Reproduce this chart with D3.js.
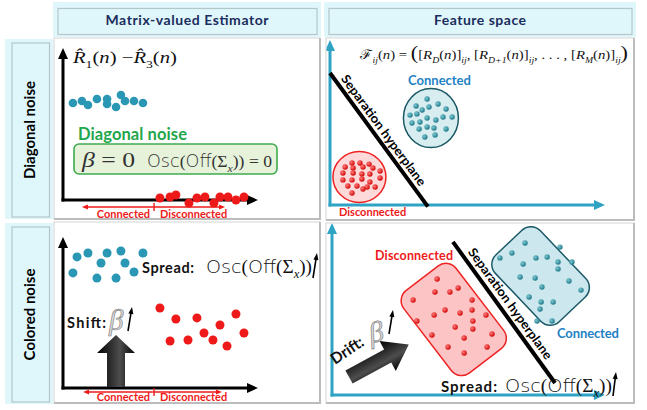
<!DOCTYPE html>
<html>
<head>
<meta charset="utf-8">
<script src="https://cdn.jsdelivr.net/npm/d3@7"></script>
<style>
  body { margin: 0; background: #fff; }
  svg { display: block; }
</style>
</head>
<body>
<svg id="chart"></svg>
<script>
// ---- data: every point is in 0..10 units of its own panel axes ----
const columnTitles = ["Matrix-valued Estimator", "Feature space"];
const rowTitles = ["Diagonal noise", "Colored noise"];
const classNames = ["Connected", "Disconnected"];

// estimator panels (R1 - R3 on y)
const diagConnected = [[0.51,6.38],[0.97,6.51],[1.28,6.25],[1.74,6.64],[2.26,6.64],[2.26,6.32],
  [2.72,6.12],[2.97,6.91],[3.18,6.51],[3.64,6.51],[4.10,6.38]];
const diagDisconnected = [[4.97,0.13],[5.49,0.2],[5.79,0.33],[6.46,-0.2],[6.87,0.13],[7.28,0.2],
  [7.74,-0.2],[8.05,0.2],[8.46,0.2],[8.87,0],[9.28,0.2]];
const colorConnected = [[0.72,8.68],[1.28,8.94],[2.26,8.94],[2.97,9.07],[4.10,8.94],[1.95,8.28],
  [3.18,8.28],[0.51,7.62],[1.74,7.28],[2.72,7.28],[3.64,7.68]];
const colorDisconnected = [[4.97,5.30],[5.79,4.57],[6.87,4.64],[8.87,4.90],[8.05,4.17],[7.23,3.64],
  [9.28,3.64],[5.49,3.11],[6.41,3.18],[7.69,3.18],[8.41,2.78]];
// [left end, split, right end] of the connected / disconnected range
const diagSplit = [0.97, 4.67, 8.31];
const colorSplit = [1.03, 4.67, 8.15];

// feature space panels
const featDiagConnected = [[3.53,6.42],[3.13,6.00],[3.35,5.76],[3.60,5.94],[3.93,6.12],[4.22,5.82],
  [3.16,5.52],[3.53,5.27],[3.85,5.15],[4.11,5.33],[4.44,5.33],[2.98,4.97],[3.27,5.03],[3.53,4.73],
  [3.78,4.67],[4.22,4.61],[3.24,4.61],[3.45,4.12],[3.82,4.24],[2.91,5.45]];
const featDiagDisconnected = [[0.80,2.55],[1.09,2.55],[1.42,2.48],[0.55,2.30],[0.84,2.24],[1.20,2.30],
  [1.56,2.24],[0.47,1.94],[0.84,1.94],[1.16,1.88],[1.45,1.88],[1.82,2.06],[0.47,1.52],[0.80,1.52],
  [1.16,1.58],[1.45,1.39],[1.82,1.64],[0.65,1.15],[0.98,1.15],[1.35,1.09],[1.64,1.09],[0.80,0.73],[1.20,0.97]];
const featColorConnected = [[7.07,8.84],[8.35,8.60],[6.59,8.26],[6.15,7.97],[7.47,7.97],[7.88,8.02],
  [8.28,7.73],[8.79,7.73],[7.00,7.62],[8.28,7.33],[6.89,6.86],[7.44,6.80],[8.68,6.63],[7.69,6.28],
  [9.12,6.10],[7.22,5.70],[7.66,5.41],[8.10,5.41],[7.62,5.00],[7.51,4.30],[8.06,4.30]];
const featColorDisconnected = [[3.85,6.74],[3.77,5.99],[4.32,5.99],[4.62,6.22],[2.97,5.52],[5.13,5.52],
  [4.14,4.94],[4.69,4.77],[5.13,4.94],[5.64,4.65],[3.11,4.30],[3.74,4.65],[5.16,4.30],[4.51,3.95],
  [5.16,3.84],[3.66,3.49],[5.86,3.55],[4.84,3.31],[4.25,2.79],[5.68,2.79],[4.84,2.44]];
const hyperplaneDiag = [[0, 8.0], [3.56, -0.1]];
const hyperplaneColor = [[4.43, 8.90], [8.17, 0.70]];

// ---- layout ----
const width = 647, height = 410;
const layout = {
  tl: { x0: 54, y0: 38, x1: 320, y1: 219, origin: [63, 200], tip: [258, 48] },
  tr: { x0: 326, y0: 38, x1: 634, y1: 220, origin: [330, 205], tip: [605, 40] },
  bl: { x0: 54, y0: 222, x1: 320, y1: 403, origin: [63, 388], tip: [258, 237] },
  br: { x0: 326, y0: 223, x1: 634, y1: 403, origin: [332, 395], tip: [605, 223] }
};
const TEAL = "#2a97b5", RED = "#ee1a1a", AXIS_BLUE = "#2fa3c4", LINK_BLUE = "#1f82c4";
const SANS = "Lato", SERIF = "Liberation Serif";

const svg = d3.select("#chart").attr("width", width).attr("height", height);
const defs = svg.append("defs");

function radial(id, c0, c1) {
  const g = defs.append("radialGradient").attr("id", id)
    .attr("cx", "35%").attr("cy", "35%").attr("r", "70%");
  g.append("stop").attr("offset", "0%").attr("stop-color", c0);
  g.append("stop").attr("offset", "100%").attr("stop-color", c1);
}
radial("dotTeal", "#7cc7d2", "#1c7686");
radial("dotRed", "#ff7a7a", "#cf0000");
const lg = defs.append("linearGradient").attr("id", "blockArrow");
[["0%", "#000"], ["60%", "#4d4d4d"], ["100%", "#050505"]].forEach(([o, c]) =>
  lg.append("stop").attr("offset", o).attr("stop-color", c));

// arrow with a triangular head
function arrow(g, x1, y1, x2, y2, o) {
  const a = Math.atan2(y2 - y1, x2 - x1);
  const bx = x2 - o.head * Math.cos(a), by = y2 - o.head * Math.sin(a);
  const hw = o.headW / 2;
  g.append("line")
    .attr("x1", x1).attr("y1", y1)
    .attr("x2", bx + 2 * Math.cos(a)).attr("y2", by + 2 * Math.sin(a))
    .attr("stroke", o.color).attr("stroke-width", o.w)
    .attr("stroke-linecap", o.cap || "butt");
  g.append("path")
    .attr("d", `M${x2},${y2}L${bx - hw * Math.sin(a)},${by + hw * Math.cos(a)}` +
      `L${bx + hw * Math.sin(a)},${by - hw * Math.cos(a)}Z`)
    .attr("fill", o.color);
}

// text made of styled pieces (italic, subscript, sans, big)
function richText(g, x, y, parts, o) {
  const t = g.append("text").attr("x", x).attr("y", y)
    .attr("font-family", SERIF).attr("font-size", o.size).attr("fill", o.fill || "#111");
  let shift = 0;
  parts.forEach(([s, k]) => {
    const sp = t.append("tspan").text(s);
    const target = (k === "sub" || k === "subr") ? o.size * 0.28 : 0;
    sp.attr("dy", target - shift);
    shift = target;
    if (k === "i") sp.attr("font-style", "italic");
    if (k === "sub") sp.attr("font-size", o.size * 0.66).attr("font-style", "italic");
    if (k === "subr") sp.attr("font-size", o.size * 0.66);
    if (k === "sans") sp.attr("font-family", "DejaVu Sans").attr("font-weight", 300);
    if (k === "big") sp.attr("font-size", o.size * 1.5);
  });
  if (o.length) t.attr("textLength", o.length).attr("lengthAdjust", "spacingAndGlyphs");
  return t;
}

function label(g, x, y, s, o) {
  return g.append("text").attr("x", x).attr("y", y)
    .attr("font-family", SANS).attr("font-weight", 700)
    .attr("font-size", o.size).attr("fill", o.fill || "#111")
    .attr("text-anchor", o.anchor || "start")
    .text(s);
}

// ---- header and row cells ----
const headerCells = [{ x0: 53, x1: 321 }, { x0: 324, x1: 636 }];
const headerWidths = [163, 92];
headerCells.forEach((h, i) => {
  svg.append("rect").attr("x", h.x0).attr("y", 2).attr("width", h.x1 - h.x0).attr("height", 35)
    .attr("fill", "#dff7fb");
  svg.append("rect").attr("x", h.x0 + 5).attr("y", 8.5).attr("width", h.x1 - h.x0 - 9).attr("height", 26)
    .attr("fill", "none").attr("stroke", "#b5c6c9").attr("stroke-width", 1.2);
  label(svg, (h.x0 + h.x1) / 2, 25, columnTitles[i], { size: 14, fill: "#1b2d5e", anchor: "middle" })
    .attr("textLength", headerWidths[i]);
});
const rowCells = [{ y0: 39, y1: 219 }, { y0: 223, y1: 404 }];
rowCells.forEach((r, i) => {
  svg.append("rect").attr("x", 5).attr("y", r.y0).attr("width", 48).attr("height", r.y1 - r.y0)
    .attr("fill", "#dff7fb");
  svg.append("rect").attr("x", 12).attr("y", r.y0 + 4).attr("width", 37.5).attr("height", r.y1 - r.y0 - 6)
    .attr("fill", "none").attr("stroke", "#b5c6c9").attr("stroke-width", 1.2);
  svg.append("text")
    .attr("transform", `translate(29,${(r.y0 + r.y1) / 2 + 1}) rotate(-90)`)
    .attr("text-anchor", "middle").attr("dominant-baseline", "central")
    .attr("font-family", SANS).attr("font-weight", 700).attr("font-size", 15)
    .text(rowTitles[i]);
});

// ---- panels ----
function makePanel(key, axisColor) {
  const p = layout[key];
  svg.append("rect").attr("x", p.x0).attr("y", p.y0)
    .attr("width", p.x1 - p.x0).attr("height", p.y1 - p.y0)
    .attr("fill", "#fff").attr("stroke", "#d4d4d4");
  svg.append("path").attr("d", `M${p.x1},${p.y0}V${p.y1}H${p.x0}`)
    .attr("fill", "none").attr("stroke", "#bcbcbc").attr("stroke-width", 2);
  defs.append("clipPath").attr("id", "clip-" + key).append("rect")
    .attr("x", p.x0 + 0.5).attr("y", p.y0 + 0.5)
    .attr("width", p.x1 - p.x0 - 1.5).attr("height", p.y1 - p.y0 - 1.5);
  const g = svg.append("g").attr("clip-path", `url(#clip-${key})`);
  const x = d3.scaleLinear().domain([0, 10]).range([p.origin[0], p.tip[0]]);
  const y = d3.scaleLinear().domain([0, 10]).range([p.origin[1], p.tip[1]]);
  const axes = g.append("g");
  const ax = { color: axisColor, w: 3, head: 11, headW: 10, cap: "square" };
  arrow(axes, x(0), y(0), x(10), y(0), ax);
  arrow(axes, x(0), y(0), x(0), y(10), ax);
  return { g, x, y, p };
}

function dots(panel, data, r, fill) {
  panel.g.append("g").selectAll("circle").data(data).join("circle")
    .attr("cx", d => panel.x(d[0])).attr("cy", d => panel.y(d[1]))
    .attr("r", r).attr("fill", fill);
}

function splitRange(panel, split, lineOff, textOff) {
  const { g, x, y } = panel;
  const yl = y(0) + lineOff;
  const o = { color: RED, w: 1.4, head: 6, headW: 5 };
  const mid = (x(split[0]) + x(split[2])) / 2;
  arrow(g, mid, yl, x(split[0]), yl, o);
  arrow(g, mid, yl, x(split[2]), yl, o);
  g.append("line").attr("x1", x(split[1])).attr("x2", x(split[1]))
    .attr("y1", yl - 4).attr("y2", yl + 4).attr("stroke", RED).attr("stroke-width", 1.4);
  label(g, x(split[1]) - 4, y(0) + textOff, classNames[0], { size: 11, fill: RED, anchor: "end" });
  label(g, x(split[1]) + 6, y(0) + textOff, classNames[1], { size: 11, fill: RED });
}

function blockArrow(g, cx, cy, angle, len, sw, hw, hl) {
  const pts = [[-sw / 2, 0], [-sw / 2, -(len - hl)], [-hw / 2, -(len - hl)], [0, -len],
    [hw / 2, -(len - hl)], [sw / 2, -(len - hl)], [sw / 2, 0]];
  g.append("path").attr("d", d3.line()(pts) + "Z")
    .attr("transform", `translate(${cx},${cy}) rotate(${angle})`)
    .attr("fill", "url(#blockArrow)");
}

function hyperplane(panel, ends, offset, frac) {
  const { g, x, y } = panel;
  const pts = ends.map(d => [x(d[0]), y(d[1])]);
  g.append("path").attr("d", d3.line()(pts)).attr("stroke", "#000").attr("stroke-width", 4);
  const [p1, p2] = pts;
  const dx = p2[0] - p1[0], dy = p2[1] - p1[1], L = Math.hypot(dx, dy);
  const ux = dx / L, uy = dy / L;
  const cx = p1[0] + ux * L * frac + uy * offset, cy = p1[1] + uy * L * frac - ux * offset;
  g.append("text")
    .attr("transform", `translate(${cx},${cy}) rotate(${Math.atan2(dy, dx) * 180 / Math.PI})`)
    .attr("text-anchor", "middle").attr("dominant-baseline", "central")
    .attr("font-family", SANS).attr("font-weight", 700).attr("font-size", 12.5)
    .attr("textLength", 134).attr("lengthAdjust", "spacingAndGlyphs")
    .text("Separation hyperplane");
}

const oscParts = [["Osc", "sans"], ["(", "r"], ["Off", "sans"], ["(Σ", "r"], ["x", "sub"], ["))", "r"]];
const thin = { color: "#000", w: 1.6, head: 7, headW: 5 };

// top-left: diagonal noise estimator
const tl = makePanel("tl", "#000");
richText(tl.g, 73, 63, [["R\u0302", "i"], ["1", "subr"], ["(", "r"], ["n", "i"], [") −", "r"],
  ["R\u0302", "i"], ["3", "subr"], ["(", "r"], ["n", "i"], [")", "r"]], { size: 17, length: 104 });
dots(tl, diagConnected, 4.3, TEAL);
label(tl.g, 78, 140, "Diagonal noise", { size: 16.5, fill: "#22a64a" }).attr("textLength", 109);
tl.g.append("rect").attr("x", 74).attr("y", 144).attr("width", 203).attr("height", 30).attr("rx", 5)
  .attr("fill", "#e6f2da").attr("stroke", "#3faa4f").attr("stroke-width", 1.6);
richText(tl.g, 82, 167, [["β", "i"], [" = 0", "r"]], { size: 22, length: 53, fill: "#333" });
richText(tl.g, 147, 167, oscParts.concat([[" = 0", "r"]]), { size: 17, length: 125, fill: "#333" });
dots(tl, diagDisconnected, 4.5, RED);
splitRange(tl, diagSplit, 7, 18);

// bottom-left: colored noise estimator
const bl = makePanel("bl", "#000");
dots(bl, colorConnected, 4.5, TEAL);
dots(bl, colorDisconnected, 4.5, RED);
label(bl.g, 142, 273, "Spread:", { size: 14.5 }).attr("textLength", 52);
richText(bl.g, 206, 273, oscParts, { size: 18, length: 106 });
arrow(bl.g, 313, 278, 317, 253, thin);
label(bl.g, 67, 328, "Shift:", { size: 14.5 }).attr("textLength", 39);
bl.g.append("text").attr("x", 109).attr("y", 330).attr("font-family", SERIF).attr("font-style", "italic")
  .attr("font-size", 29).attr("fill", "#d9d9d9").attr("stroke", "#777").attr("stroke-width", 0.6).text("β");
arrow(bl.g, 128, 331, 132, 307, thin);
blockArrow(bl.g, 116, 387, 0, 52, 18, 38, 18);
splitRange(bl, colorSplit, 4, 13);

// top-right: diagonal noise feature space
const tr = makePanel("tr", AXIS_BLUE);
richText(tr.g, 360, 59, [["ℱ", "r"], ["ij", "sub"], ["(", "r"], ["n", "i"], [") = ", "r"], ["(", "big"],
  ["[", "r"], ["R", "i"], ["D", "sub"], ["(", "r"], ["n", "i"], [")]", "r"], ["ij", "sub"], [", [", "r"],
  ["R", "i"], ["D+1", "sub"], ["(", "r"], ["n", "i"], [")]", "r"], ["ij", "sub"], [", . . . , [", "r"],
  ["R", "i"], ["M", "sub"], ["(", "r"], ["n", "i"], [")]", "r"], ["ij", "sub"], [")", "big"]],
  { size: 13, length: 268 });
tr.g.append("ellipse").attr("cx", tr.x(3.67)).attr("cy", tr.y(5.27)).attr("rx", 27.5).attr("ry", 29.5)
  .attr("fill", "#d7edf0").attr("stroke", "#1b5966").attr("stroke-width", 1.5);
tr.g.append("ellipse").attr("cx", tr.x(1.07)).attr("cy", tr.y(1.7)).attr("rx", 26.5).attr("ry", 25.5)
  .attr("fill", "#fdd9d9").attr("stroke", "#ee2424").attr("stroke-width", 1.5);
dots(tr, featDiagConnected, 2.7, "url(#dotTeal)");
dots(tr, featDiagDisconnected, 2.7, "url(#dotRed)");
hyperplane(tr, hyperplaneDiag, 9.5, 0.47);
label(tr.g, 439.5, 85, classNames[0], { size: 13, fill: LINK_BLUE, anchor: "middle" });
label(tr.g, 339, 216, classNames[1], { size: 11, fill: RED });

// bottom-right: colored noise feature space
const br = makePanel("br", AXIS_BLUE);
br.g.append("rect").attr("x", -52).attr("y", -33).attr("width", 104).attr("height", 66).attr("rx", 13)
  .attr("transform", `translate(${br.x(4.46)},${br.y(4.39)}) rotate(52.5)`)
  .attr("fill", "#fcc4c4").attr("stroke", "#ee2424").attr("stroke-width", 1.5);
br.g.append("rect").attr("x", -46).attr("y", -31).attr("width", 92).attr("height", 62).attr("rx", 13)
  .attr("transform", `translate(${br.x(7.64)},${br.y(6.92)}) rotate(46.5)`)
  .attr("fill", "#cce8ee").attr("stroke", "#1b5966").attr("stroke-width", 1.5);
dots(br, featColorConnected, 2.7, "url(#dotTeal)");
dots(br, featColorDisconnected, 2.7, "url(#dotRed)");
hyperplane(br, hyperplaneColor, 10.4, 0.48);
label(br.g, 375, 260, classNames[1], { size: 12.5, fill: RED }).attr("textLength", 78);
label(br.g, 557, 338, classNames[0], { size: 13, fill: LINK_BLUE }).attr("textLength", 62);
blockArrow(br.g, 349, 377, 61.5, 68, 15, 34, 24);
label(br.g, 0, 0, "Drift:", { size: 15.5 })
  .attr("transform", "translate(335,365) rotate(-34)");
br.g.append("text").attr("transform", "translate(371,343) rotate(-12)")
  .attr("font-family", SERIF).attr("font-style", "italic")
  .attr("font-size", 29).attr("fill", "#d9d9d9").attr("stroke", "#777").attr("stroke-width", 0.6).text("β");
arrow(br.g, 389, 334, 393, 310, thin);
label(br.g, 441, 392, "Spread:", { size: 15 }).attr("textLength", 56);
richText(br.g, 505, 392, oscParts, { size: 18, length: 107 });
arrow(br.g, 613, 396, 616, 372, thin);
</script>
</body>
</html>
